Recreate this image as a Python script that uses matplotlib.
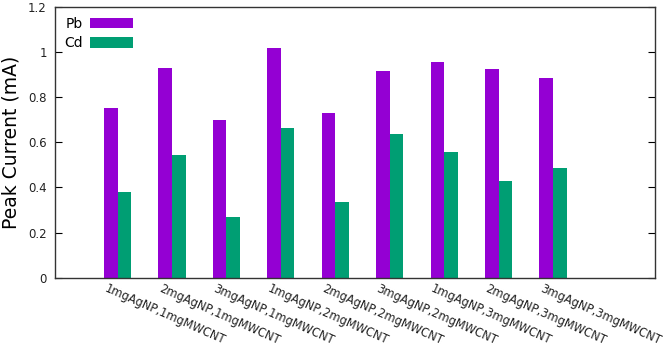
import numpy as np
import matplotlib
matplotlib.use("Agg")
import matplotlib.pyplot as plt
from matplotlib.transforms import ScaledTranslation

# sample names (AgNP loading, MWCNT loading)
samples = ["1mgAgNP,1mgMWCNT", "2mgAgNP,1mgMWCNT", "3mgAgNP,1mgMWCNT",
           "1mgAgNP,2mgMWCNT", "2mgAgNP,2mgMWCNT", "3mgAgNP,2mgMWCNT",
           "1mgAgNP,3mgMWCNT", "2mgAgNP,3mgMWCNT", "3mgAgNP,3mgMWCNT"]
pb = [0.75, 0.93, 0.70, 1.02, 0.73, 0.915, 0.955, 0.925, 0.885]
cd = [0.38, 0.545, 0.268, 0.665, 0.337, 0.635, 0.557, 0.429, 0.488]
yticks = [0, 0.2, 0.4, 0.6, 0.8, 1.0, 1.2]
ytick_labels = ["0", "0.2", "0.4", "0.6", "0.8", "1", "1.2"]

fig = plt.figure(figsize=(6.66, 3.49), dpi=100)
ax = fig.add_axes([0.0826, 0.2043, 0.9014, 0.7757])

x = np.arange(len(samples))
w = 0.25
ax.bar(x - w/2, pb, w, color="#9400D3", label="Pb")
ax.bar(x + w/2, cd, w, color="#009E73", label="Cd")

ax.set_xlim(-1.15, 9.88)
ax.set_ylim(0, 1.2)
ax.set_yticks(yticks)
ax.set_yticklabels(ytick_labels, fontsize=8.5, color="#222222")
ax.tick_params(axis="y", direction="in", length=5, width=0.8, right=True, pad=6)
ax.set_xticks(x)
ax.set_xticklabels(samples, rotation=-24, ha="left", va="top",
                   rotation_mode="anchor", fontsize=8.3, color="#222222")
ax.tick_params(axis="x", length=0, pad=3)
offset = ScaledTranslation(-0.10, 0, fig.dpi_scale_trans)
for lab in ax.get_xticklabels():
    lab.set_transform(lab.get_transform() + offset)

for s in ax.spines.values():
    s.set_linewidth(1.0)
    s.set_color("#333333")

ax.set_ylabel("Peak Current (mA)", fontsize=13.5, labelpad=5)

ax.legend(loc="upper left", frameon=False, markerfirst=False, fontsize=10,
          handlelength=3.1, handleheight=0.75, labelspacing=0.4,
          handletextpad=0.5, borderaxespad=0.4, borderpad=0.3)

fig.savefig("out.png", dpi=100)
